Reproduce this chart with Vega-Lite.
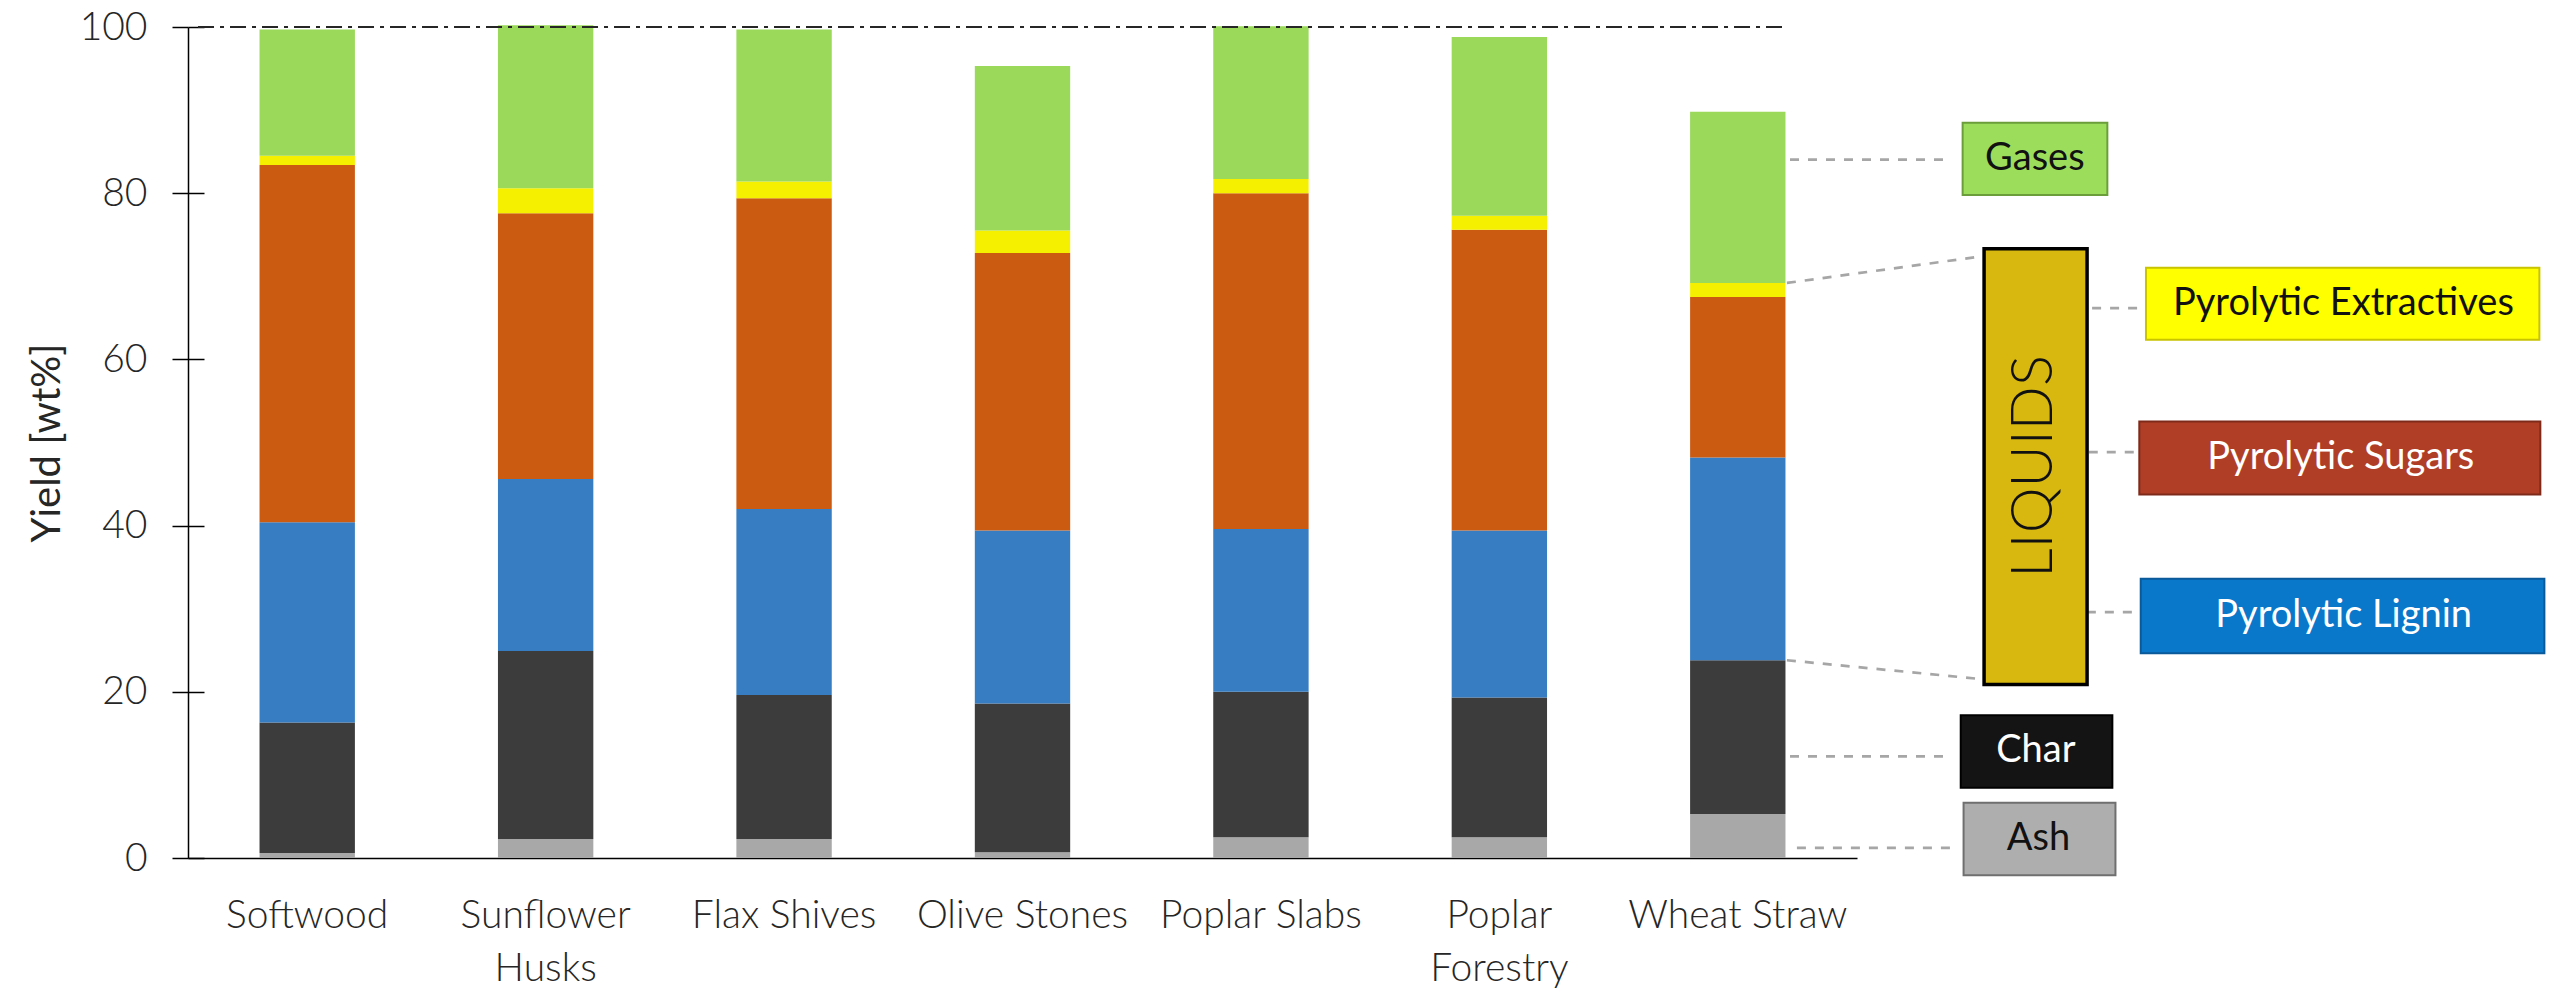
{
  "$schema": "https://vega.github.io/schema/vega-lite/v6.json",
  "autosize": "none",
  "width": 1669,
  "height": 831,
  "padding": {"left": 188, "top": 27, "right": 705, "bottom": 134},
  "background": "white",
  "config": {"view": {"stroke": null}, "font": "Lato"},
  "datasets": {
    "bars": [
      {"m": "Softwood", "c": "Ash", "k": 1, "v": 0.6},
      {"m": "Softwood", "c": "Char", "k": 2, "v": 15.7},
      {"m": "Softwood", "c": "Pyrolytic Lignin", "k": 3, "v": 24.1},
      {"m": "Softwood", "c": "Pyrolytic Sugars", "k": 4, "v": 43.0},
      {"m": "Softwood", "c": "Pyrolytic Extractives", "k": 5, "v": 1.1},
      {"m": "Softwood", "c": "Gases", "k": 6, "v": 15.2},
      {"m": "Sunflower Husks", "c": "Ash", "k": 1, "v": 2.3},
      {"m": "Sunflower Husks", "c": "Char", "k": 2, "v": 22.6},
      {"m": "Sunflower Husks", "c": "Pyrolytic Lignin", "k": 3, "v": 20.7},
      {"m": "Sunflower Husks", "c": "Pyrolytic Sugars", "k": 4, "v": 32.0},
      {"m": "Sunflower Husks", "c": "Pyrolytic Extractives", "k": 5, "v": 3.0},
      {"m": "Sunflower Husks", "c": "Gases", "k": 6, "v": 19.6},
      {"m": "Flax Shives", "c": "Ash", "k": 1, "v": 2.3},
      {"m": "Flax Shives", "c": "Char", "k": 2, "v": 17.3},
      {"m": "Flax Shives", "c": "Pyrolytic Lignin", "k": 3, "v": 22.4},
      {"m": "Flax Shives", "c": "Pyrolytic Sugars", "k": 4, "v": 37.4},
      {"m": "Flax Shives", "c": "Pyrolytic Extractives", "k": 5, "v": 2.0},
      {"m": "Flax Shives", "c": "Gases", "k": 6, "v": 18.3},
      {"m": "Olive Stones", "c": "Ash", "k": 1, "v": 0.7},
      {"m": "Olive Stones", "c": "Char", "k": 2, "v": 17.9},
      {"m": "Olive Stones", "c": "Pyrolytic Lignin", "k": 3, "v": 20.8},
      {"m": "Olive Stones", "c": "Pyrolytic Sugars", "k": 4, "v": 33.4},
      {"m": "Olive Stones", "c": "Pyrolytic Extractives", "k": 5, "v": 2.7},
      {"m": "Olive Stones", "c": "Gases", "k": 6, "v": 19.8},
      {"m": "Poplar Slabs", "c": "Ash", "k": 1, "v": 2.5},
      {"m": "Poplar Slabs", "c": "Char", "k": 2, "v": 17.5},
      {"m": "Poplar Slabs", "c": "Pyrolytic Lignin", "k": 3, "v": 19.6},
      {"m": "Poplar Slabs", "c": "Pyrolytic Sugars", "k": 4, "v": 40.4},
      {"m": "Poplar Slabs", "c": "Pyrolytic Extractives", "k": 5, "v": 1.7},
      {"m": "Poplar Slabs", "c": "Gases", "k": 6, "v": 18.4},
      {"m": "Poplar Forestry", "c": "Ash", "k": 1, "v": 2.5},
      {"m": "Poplar Forestry", "c": "Char", "k": 2, "v": 16.8},
      {"m": "Poplar Forestry", "c": "Pyrolytic Lignin", "k": 3, "v": 20.1},
      {"m": "Poplar Forestry", "c": "Pyrolytic Sugars", "k": 4, "v": 36.2},
      {"m": "Poplar Forestry", "c": "Pyrolytic Extractives", "k": 5, "v": 1.7},
      {"m": "Poplar Forestry", "c": "Gases", "k": 6, "v": 21.5},
      {"m": "Wheat Straw", "c": "Ash", "k": 1, "v": 5.3},
      {"m": "Wheat Straw", "c": "Char", "k": 2, "v": 18.5},
      {"m": "Wheat Straw", "c": "Pyrolytic Lignin", "k": 3, "v": 24.4},
      {"m": "Wheat Straw", "c": "Pyrolytic Sugars", "k": 4, "v": 19.3},
      {"m": "Wheat Straw", "c": "Pyrolytic Extractives", "k": 5, "v": 1.7},
      {"m": "Wheat Straw", "c": "Gases", "k": 6, "v": 20.6}
    ],
    "top": [{"x1": 0.042, "x2": 6.706, "y": 100}],
    "links": [
      {"x1": 6.719, "x2": 7.376, "y1": 84.04, "y2": 84.04},
      {"x1": 6.706, "x2": 7.533, "y1": 69.2, "y2": 72.44},
      {"x1": 6.706, "x2": 7.507, "y1": 23.8, "y2": 21.57},
      {"x1": 6.719, "x2": 7.376, "y1": 12.22, "y2": 12.22},
      {"x1": 6.748, "x2": 7.411, "y1": 1.23, "y2": 1.23},
      {"x1": 7.986, "x2": 8.187, "y1": 66.18, "y2": 66.18},
      {"x1": 7.972, "x2": 8.174, "y1": 48.84, "y2": 48.84},
      {"x1": 7.964, "x2": 8.156, "y1": 29.59, "y2": 29.59}
    ],
    "boxes": [
      {"label": "Gases", "x1": 7.443, "x2": 8.05, "y1": 79.78, "y2": 88.49, "tx": 7.746, "ty": 84.13},
      {"label": "LIQUIDS", "x1": 7.533, "x2": 7.965, "y1": 20.88, "y2": 73.33, "tx": 7.748, "ty": 47.12},
      {"label": "Pyrolytic Extractives", "x1": 8.212, "x2": 9.862, "y1": 62.37, "y2": 71.04, "tx": 9.04, "ty": 66.71},
      {"label": "Pyrolytic Sugars", "x1": 8.184, "x2": 9.866, "y1": 43.75, "y2": 52.54, "tx": 9.029, "ty": 48.15},
      {"label": "Pyrolytic Lignin", "x1": 8.19, "x2": 9.883, "y1": 24.65, "y2": 33.61, "tx": 9.041, "ty": 29.13},
      {"label": "Char", "x1": 7.435, "x2": 8.071, "y1": 8.45, "y2": 17.19, "tx": 7.75, "ty": 12.82},
      {"label": "Ash", "x1": 7.447, "x2": 8.084, "y1": -2.07, "y2": 6.64, "tx": 7.761, "ty": 2.29}
    ]
  },
  "layer": [
    {
      "data": {"name": "bars"},
      "mark": {"type": "bar"},
      "encoding": {
        "x": {
          "field": "m", "type": "nominal",
          "sort": ["Softwood", "Sunflower Husks", "Flax Shives", "Olive Stones", "Poplar Slabs", "Poplar Forestry", "Wheat Straw"],
          "scale": {"paddingInner": 0.6, "paddingOuter": 0.3, "round": false},
          "axis": {
            "title": null, "ticks": false, "domainColor": "#000000", "domainWidth": 1.5,
            "labelFont": "Lato", "labelFontSize": 39, "labelFontWeight": 300, "labelColor": "#262626",
            "labelPadding": 38, "labelAngle": 0, "labelLimit": 600, "labelOverlap": false, "labelLineHeight": 53,
            "labelExpr": "(datum.value == 'Sunflower Husks' || datum.value == 'Poplar Forestry') ? split(datum.value, ' ') : datum.value"
          }
        },
        "y": {
          "field": "v", "type": "quantitative", "stack": "zero",
          "scale": {"domain": [0, 100], "nice": false},
          "axis": {
            "title": "Yield [wt%]", "values": [0, 20, 40, 60, 80, 100], "grid": false,
            "tickSize": 16, "tickColor": "#000000", "tickWidth": 1.5,
            "domainColor": "#000000", "domainWidth": 1.5,
            "labelFont": "Lato", "labelFontSize": 39, "labelFontWeight": 300, "labelColor": "#262626",
            "labelPadding": 25, "labelFlush": false, "labelOverlap": false,
            "titleFont": "Lato", "titleFontSize": 40, "titleFontWeight": 400, "titleColor": "#262626", "titlePadding": 12
          }
        },
        "color": {
          "field": "c", "type": "nominal", "legend": null,
          "scale": {
            "domain": ["Ash", "Char", "Pyrolytic Lignin", "Pyrolytic Sugars", "Pyrolytic Extractives", "Gases"],
            "range": ["#A8A8A8", "#3D3C3D", "#377DC1", "#CC5B12", "#F5F000", "#9AD95A"]
          }
        },
        "order": {"field": "k", "type": "quantitative"}
      }
    },
    {
      "data": {"name": "top"},
      "mark": {"type": "rule", "color": "#262626", "strokeWidth": 2, "strokeDash": [16, 6, 4, 6]},
      "encoding": {
        "x": {"field": "x1", "type": "quantitative", "scale": {"domain": [0, 7], "nice": false, "zero": false}, "axis": null},
        "x2": {"field": "x2"},
        "y": {
          "field": "y", "type": "quantitative", "scale": {"domain": [0, 100], "nice": false},
          "axis": {"orient": "left", "tickSize": -16, "labels": false, "domain": false, "title": null, "grid": false,
                   "values": [0, 20, 40, 60, 80, 100], "tickColor": "#000000", "tickWidth": 1.5}
        }
      }
    },
    {
      "data": {"name": "links"},
      "mark": {"type": "rule", "color": "#A6A6A6", "strokeWidth": 2.7, "strokeDash": [9, 9]},
      "encoding": {
        "x": {"field": "x1", "type": "quantitative", "scale": {"domain": [0, 7], "nice": false, "zero": false}, "axis": null},
        "x2": {"field": "x2"},
        "y": {"field": "y1", "type": "quantitative", "scale": {"domain": [0, 100], "nice": false}, "axis": null},
        "y2": {"field": "y2"}
      }
    },
    {
      "data": {"name": "boxes"},
      "mark": {"type": "rect"},
      "encoding": {
        "x": {"field": "x1", "type": "quantitative", "scale": {"domain": [0, 7], "nice": false, "zero": false}, "axis": null},
        "x2": {"field": "x2"},
        "y": {"field": "y1", "type": "quantitative", "scale": {"domain": [0, 100], "nice": false}, "axis": null},
        "y2": {"field": "y2"},
        "fill": {
          "field": "label", "type": "nominal", "legend": null,
          "scale": {
            "domain": ["Gases", "LIQUIDS", "Pyrolytic Extractives", "Pyrolytic Sugars", "Pyrolytic Lignin", "Char", "Ash"],
            "range": ["#9CDE5C", "#D8B80F", "#FFFF00", "#B03E27", "#0977CA", "#141414", "#AEAEAE"]
          }
        },
        "stroke": {
          "field": "label", "type": "nominal", "legend": null,
          "scale": {
            "domain": ["Gases", "LIQUIDS", "Pyrolytic Extractives", "Pyrolytic Sugars", "Pyrolytic Lignin", "Char", "Ash"],
            "range": ["#6B9E3B", "#000000", "#C9C400", "#7E2A1A", "#0A5A9A", "#000000", "#6F6F6F"]
          }
        },
        "strokeWidth": {"condition": {"test": "datum.label == 'LIQUIDS'", "value": 3.5}, "value": 2}
      }
    },
    {
      "data": {"name": "boxes"},
      "transform": [{"filter": "datum.label != 'LIQUIDS'"}],
      "mark": {"type": "text", "font": "Lato", "fontSize": 38, "align": "center", "baseline": "middle"},
      "encoding": {
        "x": {"field": "tx", "type": "quantitative", "scale": {"domain": [0, 7], "nice": false, "zero": false}, "axis": null},
        "y": {"field": "ty", "type": "quantitative", "scale": {"domain": [0, 100], "nice": false}, "axis": null},
        "text": {"field": "label"},
        "fill": {"condition": {"test": "indexof(['Pyrolytic Sugars', 'Pyrolytic Lignin', 'Char'], datum.label) >= 0", "value": "#FFFFFF"}, "value": "#111111"}
      }
    },
    {
      "data": {"name": "boxes"},
      "transform": [{"filter": "datum.label == 'LIQUIDS'"}],
      "mark": {"type": "text", "font": "Lato", "fontSize": 58, "fontWeight": 300, "angle": 270, "align": "center", "baseline": "middle", "color": "#111111"},
      "encoding": {
        "x": {"field": "tx", "type": "quantitative", "scale": {"domain": [0, 7], "nice": false, "zero": false}, "axis": null},
        "y": {"field": "ty", "type": "quantitative", "scale": {"domain": [0, 100], "nice": false}, "axis": null},
        "text": {"field": "label"}
      }
    }
  ],
  "resolve": {"scale": {"x": "independent", "fill": "independent"}, "axis": {"y": "independent"}}
}
